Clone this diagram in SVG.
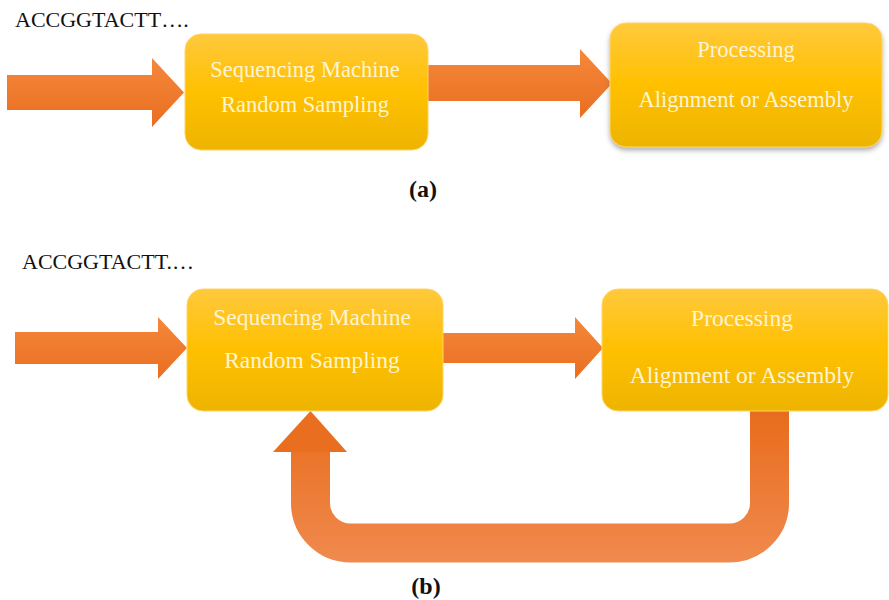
<svg xmlns="http://www.w3.org/2000/svg" width="889" height="600" viewBox="0 0 889 600">
  <defs>
    <linearGradient id="boxFill" x1="0" y1="0" x2="0" y2="1">
      <stop offset="0" stop-color="#FFC93D"/>
      <stop offset="0.5" stop-color="#FFC000"/>
      <stop offset="1" stop-color="#EDB400"/>
    </linearGradient>
    <linearGradient id="arrowFill" x1="0" y1="0" x2="0" y2="1">
      <stop offset="0" stop-color="#F5883C"/>
      <stop offset="1" stop-color="#E96E20"/>
    </linearGradient>
    <linearGradient id="loopFill" gradientUnits="userSpaceOnUse" x1="0" y1="411" x2="0" y2="563">
      <stop offset="0" stop-color="#E86C1C"/>
      <stop offset="1" stop-color="#F08A4E"/>
    </linearGradient>
    <filter id="shadow" x="-10%" y="-10%" width="120%" height="130%">
      <feDropShadow dx="0" dy="3" stdDeviation="2.5" flood-color="#6E6E6E" flood-opacity="0.55"/>
    </filter>
  </defs>
  <style>
    .box { fill: url(#boxFill); stroke: #FFD466; stroke-width: 1; }
    .arrow { fill: url(#arrowFill); }
    .label { font-family: "Liberation Serif", "Times New Roman", serif; fill: #FFF4D2; text-anchor: middle; }
    .seq { font-family: "Liberation Serif", "Times New Roman", serif; font-size: 22px; fill: #111111; }
    .cap { font-family: "Liberation Serif", "Times New Roman", serif; font-size: 24px; font-weight: bold; fill: #111111; text-anchor: middle; }
  </style>

  <rect width="889" height="600" fill="#FFFFFF"/>

  <!-- panel (a) -->
  <text class="seq" x="15" y="27">ACCGGTACTT….</text>

  <g id="connectors-a">
    <polygon class="arrow" points="7,75 152,75 152,58 184,92.5 152,127 152,110 7,110"/>
    <polygon class="arrow" points="428,65 580,65 580,49 612,83.5 580,118 580,101 428,101"/>
  </g>

  <g id="a-sequencing">
    <rect class="box" x="185" y="34" width="243" height="116" rx="16"/>
    <text class="label" font-size="22.5" x="305" y="77">Sequencing Machine</text>
    <text class="label" font-size="22.5" x="305" y="112">Random Sampling</text>
  </g>

  <g id="a-processing">
    <rect class="box" x="610" y="23" width="272" height="124" rx="16" filter="url(#shadow)"/>
    <text class="label" font-size="22.5" x="746" y="57">Processing</text>
    <text class="label" font-size="22.5" x="746" y="107">Alignment or Assembly</text>
  </g>

  <text class="cap" x="423" y="197">(a)</text>

  <!-- panel (b) -->
  <text class="seq" x="22" y="269">ACCGGTACTT.…</text>

  <g id="connectors-b">
    <polygon class="arrow" points="15,332 158,332 158,317 187,348 158,379 158,364 15,364"/>
    <polygon class="arrow" points="442,333 575,333 575,317 603,348 575,379 575,363 442,363"/>
    <!-- feedback loop from processing back to sequencing -->
    <path d="M769.5,410 V503 A40,40 0 0 1 729.5,543 H350.5 A40,40 0 0 1 310.5,503 V450" fill="none" stroke="url(#loopFill)" stroke-width="39"/>
    <polygon points="273,452 347,452 310.5,411" fill="#E96E20"/>
  </g>

  <g id="b-sequencing">
    <rect class="box" x="187" y="289" width="256" height="122" rx="16"/>
    <text class="label" font-size="23.5" x="312" y="325">Sequencing Machine</text>
    <text class="label" font-size="23.5" x="312" y="368">Random Sampling</text>
  </g>

  <g id="b-processing">
    <rect class="box" x="602" y="289" width="286" height="122" rx="16"/>
    <text class="label" font-size="23.5" x="742" y="326">Processing</text>
    <text class="label" font-size="23.5" x="742" y="383">Alignment or Assembly</text>
  </g>

  <text class="cap" x="426" y="594">(b)</text>
</svg>
